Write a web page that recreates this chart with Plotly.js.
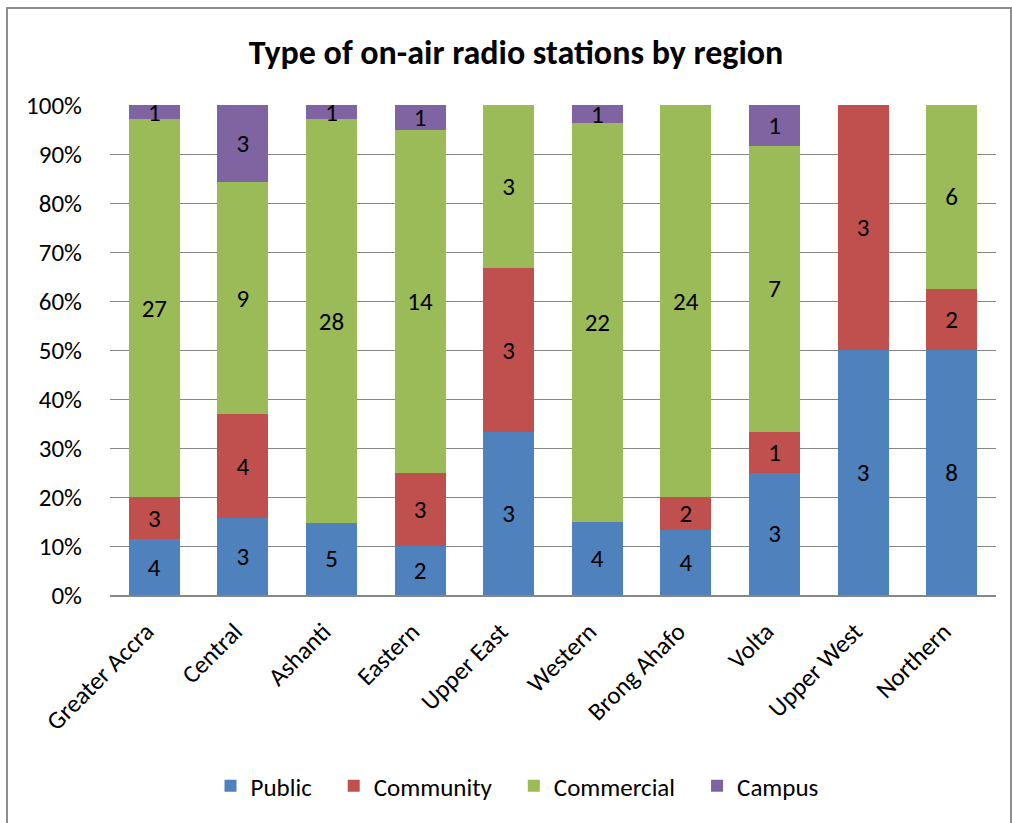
<!DOCTYPE html>
<html>
<head>
<meta charset="utf-8">
<script src="https://cdn.plot.ly/plotly-3.0.1.min.js"></script>
<style>
  html, body { margin: 0; padding: 0; background: #fff; }
  #frame { position: absolute; left: 6px; top: 7px; width: 1002px; height: 830px; border: 2px solid #8c8c8c; }
  #chart { width: 1002px; height: 814px; }
</style>
</head>
<body>
<div id="frame"><div id="chart"></div></div>
<script>
const regions = ["Greater Accra", "Central", "Ashanti", "Eastern", "Upper East", "Western", "Brong Ahafo", "Volta", "Upper West", "Northern"];
const publicVals     = [4, 3, 5, 2, 3, 4, 4, 3, 3, 8];
const communityVals  = [3, 4, 0, 3, 3, 0, 2, 1, 3, 2];
const commercialVals = [27, 9, 28, 14, 3, 22, 24, 7, 0, 6];
const campusVals     = [1, 3, 1, 1, 0, 1, 0, 1, 0, 0];

const seriesNames = ["Public", "Community", "Commercial", "Campus"];
const seriesData = [publicVals, communityVals, commercialVals, campusVals];
const colors = ["#4F81BD", "#C0504D", "#9BBB59", "#8064A2"];
const FONT = "Carlito, Calibri, Lato, 'Open Sans', sans-serif";
const FS = 25;
const PAD = "\u00a0\u00a0\u00a0";

const traces = seriesData.map((vals, i) => ({
  type: "bar",
  name: seriesNames[i] + (i < seriesNames.length - 1 ? PAD : ""),
  x: regions,
  y: vals,
  text: vals.map(v => v === 0 ? "" : String(v)),
  textposition: "inside",
  insidetextanchor: "middle",
  constraintext: "none",
  textangle: 0,
  textfont: { family: FONT, size: FS, color: "#000" },
  marker: { color: colors[i], line: { width: 0 } },
  hoverinfo: "x+y+name"
}));

const layout = {
  width: 1002,
  height: 814,
  margin: { l: 102, r: 14, t: 96, b: 228 },
  paper_bgcolor: "#fff",
  plot_bgcolor: "#fff",
  barmode: "stack",
  barnorm: "percent",
  bargap: 0.425,
  font: { family: FONT, size: FS, color: "#000" },
  title: {
    text: "<b>Type of on-air radio stations by region</b>",
    font: { family: FONT, size: 34, color: "#000" },
    x: 0.507, xref: "container", xanchor: "center",
    y: 1 - 43 / 814, yref: "container", yanchor: "middle"
  },
  xaxis: {
    type: "category",
    tickangle: -45,
    tickfont: { family: FONT, size: FS, color: "#000" },
    ticklabelstandoff: 10,
    ticklabelshift: -8,
    showline: true, linecolor: "#868686", linewidth: 2,
    ticks: "", showgrid: false
  },
  yaxis: {
    range: [0, 100],
    dtick: 10,
    ticksuffix: "%",
    tickfont: { family: FONT, size: FS, color: "#000" },
    showgrid: true, gridcolor: "#868686", gridwidth: 1,
    zeroline: false, showline: false,
    ticks: "outside", ticklen: 22, tickcolor: "rgba(0,0,0,0)"
  },
  showlegend: true,
  legend: {
    orientation: "h",
    xref: "container", yref: "container",
    x: 0.508, xanchor: "center",
    y: 1 - 777 / 814, yanchor: "middle",
    font: { family: FONT, size: FS, color: "#000" },
    itemwidth: 30,
    traceorder: "normal"
  }
};

Plotly.newPlot("chart", traces, layout, { displayModeBar: false, staticPlot: true });
</script>
</body>
</html>
